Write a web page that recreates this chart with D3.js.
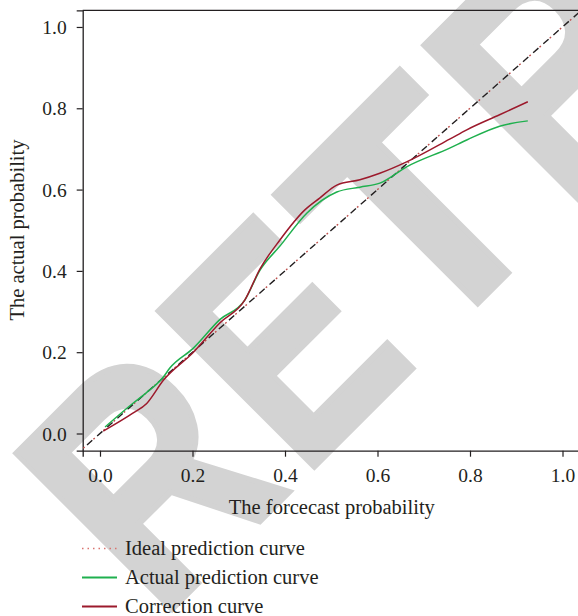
<!DOCTYPE html>
<html>
<head>
<meta charset="utf-8">
<script src="https://cdn.jsdelivr.net/npm/d3@7"></script>
<style>
  body { margin: 0; background: #fff; }
  svg { display: block; }
  text { font-family: "Liberation Serif", "Times New Roman", serif; fill: #231f20; }
</style>
</head>
<body>
<svg id="chart"></svg>
<script>
// Chart size
const svgWidth = 578;
const svgHeight = 616;

// Tick values on both axes
const tickValues = [0, 0.2, 0.4, 0.6, 0.8, 1.0];

// Ideal prediction curve (diagonal)
const idealX = [-0.05, 1.05];
const idealY = [-0.05, 1.05];

// Actual prediction curve
const actualX = [0.011, 0.072, 0.1, 0.137, 0.151, 0.202, 0.259, 0.313, 0.346, 0.389, 0.447, 0.512, 0.562, 0.605, 0.663, 0.756, 0.793, 0.864, 0.925];
const actualY = [0.016, 0.075, 0.1, 0.139, 0.161, 0.21, 0.28, 0.328, 0.402, 0.461, 0.542, 0.594, 0.606, 0.616, 0.656, 0.702, 0.722, 0.756, 0.769];

// Correction curve
const corrX = [0.007, 0.071, 0.101, 0.137, 0.202, 0.259, 0.313, 0.346, 0.389, 0.443, 0.475, 0.512, 0.562, 0.605, 0.663, 0.756, 0.793, 0.864, 0.925];
const corrY = [0.006, 0.05, 0.074, 0.131, 0.2, 0.272, 0.328, 0.405, 0.476, 0.55, 0.579, 0.611, 0.624, 0.64, 0.668, 0.724, 0.747, 0.784, 0.816];

// Legend entries
const legendLabels = ["Ideal prediction curve", "Actual prediction curve", "Correction curve"];

// Watermark letters, their start along the baseline and their horizontal squeeze
const watermarkLetters = ["R", "E", "T", "R", "A", "C", "T", "E", "D"];
const watermarkPos = [-327, -125, 53, 250, 440, 630, 820, 985, 1160];
const watermarkScale = [0.82, 0.78, 0.94, 0.82, 0.82, 0.82, 0.94, 0.78, 0.82];

const svg = d3.select("#chart")
    .attr("width", svgWidth)
    .attr("height", svgHeight);

// Retraction watermark behind everything
const watermark = svg.append("g")
    .attr("transform", "translate(390.5,390.5) rotate(-45)");

watermark.selectAll("text")
    .data(watermarkLetters)
    .enter()
    .append("text")
    .attr("transform", function(d, i) { return `translate(${watermarkPos[i]},0) scale(${watermarkScale[i]},1)`; })
    .style("font-family", "'Liberation Sans', Arial, sans-serif")
    .style("font-weight", "bold")
    .style("font-size", "320px")
    .style("fill", "#d3d3d3")
    .style("stroke", "#d3d3d3")
    .style("stroke-width", 6)
    .style("stroke-linejoin", "miter")
    .text(function(d) { return d; });

// Plot area
const plotLeft = 82.7, plotRight = 581, plotTop = 10.3, plotBottom = 450.7;

const x = d3.scaleLinear().domain([-0.0374, 1.04]).range([plotLeft, plotRight]);
const y = d3.scaleLinear().domain([-0.0423, 1.041]).range([plotBottom, plotTop]);

const fmt = d3.format(".1f");

// Axes
const xAxis = svg.append("g")
    .attr("transform", `translate(0,${plotBottom})`)
    .call(d3.axisBottom(x).tickValues(tickValues).tickFormat(fmt).tickSize(6).tickPadding(5));
const yAxis = svg.append("g")
    .attr("transform", `translate(${plotLeft},0)`)
    .call(d3.axisLeft(y).tickValues(tickValues).tickFormat(fmt).tickSize(6).tickPadding(10));

[xAxis, yAxis].forEach(function(g) {
    g.select(".domain").attr("stroke", "#231f20").attr("stroke-width", 1.3);
    g.selectAll(".tick line").attr("stroke", "#231f20").attr("stroke-width", 1.2);
    g.selectAll(".tick text")
        .style("font-family", "'Liberation Serif', serif")
        .style("font-size", "19.5px")
        .attr("fill", "#231f20");
});
xAxis.selectAll(".tick text").attr("dy", "1.02em");
yAxis.selectAll(".tick text").attr("dy", "0.34em");

// Top frame line
svg.append("line")
    .attr("x1", plotLeft).attr("x2", plotRight)
    .attr("y1", plotTop).attr("y2", plotTop)
    .attr("stroke", "#231f20").attr("stroke-width", 1.3);

// Clip so the diagonal stays inside the plot
svg.append("clipPath").attr("id", "plotClip")
    .append("rect")
    .attr("x", plotLeft).attr("y", plotTop)
    .attr("width", plotRight - plotLeft).attr("height", plotBottom - plotTop);

const plot = svg.append("g").attr("clip-path", "url(#plotClip)");

const smooth = d3.line()
    .x(function(d) { return x(d[0]); })
    .y(function(d) { return y(d[1]); })
    .curve(d3.curveMonotoneX);
const straight = d3.line()
    .x(function(d) { return x(d[0]); })
    .y(function(d) { return y(d[1]); });

const ideal = d3.zip(idealX, idealY);
const actual = d3.zip(actualX, actualY);
const corr = d3.zip(corrX, corrY);

// Ideal line: black dashes with red dots between
plot.append("path")
    .attr("d", straight(ideal))
    .attr("fill", "none")
    .attr("stroke", "#231f20")
    .attr("stroke-width", 1.4)
    .attr("stroke-dasharray", "7,6.5");
plot.append("path")
    .attr("d", straight(ideal))
    .attr("fill", "none")
    .attr("stroke", "#c0504d")
    .attr("stroke-width", 1.4)
    .attr("stroke-dasharray", "1.8,11.7")
    .attr("stroke-dashoffset", -8.5);

plot.append("path")
    .attr("d", smooth(actual))
    .attr("fill", "none")
    .attr("stroke", "#1fb04e")
    .attr("stroke-width", 1.5);

plot.append("path")
    .attr("d", smooth(corr))
    .attr("fill", "none")
    .attr("stroke", "#9c1a2c")
    .attr("stroke-width", 1.5);

// Axis titles
svg.append("text")
    .attr("x", (plotLeft + plotRight) / 2)
    .attr("y", 514)
    .attr("text-anchor", "middle")
    .style("font-size", "20.5px")
    .text("The forcecast probability");

svg.append("text")
    .attr("transform", "translate(24,230) rotate(-90)")
    .attr("text-anchor", "middle")
    .style("font-size", "20.5px")
    .text("The actual probability");

// Legend
const legendColors = ["#d9746f", "#1fb04e", "#9c1a2c"];
const legend = svg.selectAll(".legend")
    .data(legendLabels)
    .enter()
    .append("g")
    .attr("class", "legend")
    .attr("transform", function(d, i) { return `translate(82,${548.5 + i * 29})`; });

legend.append("line")
    .attr("x1", 0).attr("x2", 35)
    .attr("stroke", function(d, i) { return legendColors[i]; })
    .attr("stroke-width", function(d, i) { return i === 0 ? 1.3 : 1.8; })
    .attr("stroke-dasharray", function(d, i) { return i === 0 ? "1.5,4" : null; });

legend.append("text")
    .attr("x", 43)
    .attr("dy", "0.3em")
    .style("font-size", "20.5px")
    .text(function(d) { return d; });
</script>
</body>
</html>
